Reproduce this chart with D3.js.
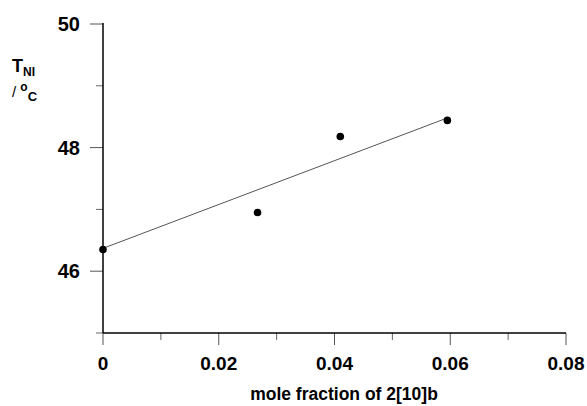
<!DOCTYPE html>
<html>
<head>
<meta charset="utf-8">
<script src="https://cdn.jsdelivr.net/npm/d3@7"></script>
<style>
  body { margin: 0; background: #fff; }
  svg text { font-family: "Liberation Sans", Arial, sans-serif; font-weight: bold; fill: #000; }
</style>
</head>
<body>
<div id="chart"></div>
<script>
// data
var moleFraction = [0, 0.0267, 0.041, 0.0595];
var tNI = [46.35, 46.95, 48.18, 48.44];
// fitted line end points
var fitX = [0, 0.0595];
var fitY = [46.37, 48.48];
var xTicks = [0, 0.02, 0.04, 0.06, 0.08];
var xMinor = [0.01, 0.03, 0.05, 0.07];
var yTicks = [46, 48, 50];
var yMinor = [45, 47, 49];

var width = 587, height = 406;
var margin = {top: 24, right: 21, bottom: 73, left: 103};

var svg = d3.select("#chart").append("svg")
    .attr("width", width)
    .attr("height", height);

var x = d3.scaleLinear().domain([0, 0.08]).range([margin.left, width - margin.right]);
var y = d3.scaleLinear().domain([45, 50]).range([height - margin.bottom, margin.top]);

// x axis
var xAxis = svg.append("g")
    .attr("transform", "translate(0," + y(45) + ")");
xAxis.selectAll(".minor").data(xMinor).enter().append("line")
    .attr("x1", function(d) { return x(d); }).attr("x2", function(d) { return x(d); })
    .attr("y1", 0).attr("y2", 7)
    .style("stroke", "#666").style("stroke-width", 1);
xAxis.selectAll(".major").data(xTicks).enter().append("line")
    .attr("x1", function(d) { return x(d); }).attr("x2", function(d) { return x(d); })
    .attr("y1", 0).attr("y2", 12)
    .style("stroke", "#555").style("stroke-width", 1);
xAxis.selectAll("text").data(xTicks).enter().append("text")
    .attr("x", function(d) { return x(d); })
    .attr("y", 37)
    .attr("text-anchor", "middle")
    .style("font-size", "19px")
    .text(function(d) { return d === 0 ? "0" : d3.format(".2f")(d); });
xAxis.append("line")
    .attr("x1", x(0)).attr("x2", x(0.08))
    .style("stroke", "#000").style("stroke-width", 1.5);

// y axis
var yAxis = svg.append("g")
    .attr("transform", "translate(" + x(0) + ",0)");
yAxis.selectAll(".minor").data(yMinor).enter().append("line")
    .attr("y1", function(d) { return y(d); }).attr("y2", function(d) { return y(d); })
    .attr("x1", 0).attr("x2", -7)
    .style("stroke", "#666").style("stroke-width", 1);
yAxis.selectAll(".major").data(yTicks).enter().append("line")
    .attr("y1", function(d) { return y(d); }).attr("y2", function(d) { return y(d); })
    .attr("x1", 0).attr("x2", -13)
    .style("stroke", "#555").style("stroke-width", 1);
yAxis.selectAll("text").data(yTicks).enter().append("text")
    .attr("x", -23)
    .attr("y", function(d) { return y(d) + 7; })
    .attr("text-anchor", "end")
    .style("font-size", "20px")
    .text(function(d) { return d; });
yAxis.append("line")
    .attr("y1", y(45)).attr("y2", y(50) - 1)
    .style("stroke", "#000").style("stroke-width", 1.5);

// fit line
var line = d3.line()
    .x(function(d) { return x(d[0]); })
    .y(function(d) { return y(d[1]); });
svg.append("path")
    .datum(d3.zip(fitX, fitY))
    .attr("d", line)
    .style("fill", "none")
    .style("stroke", "#555")
    .style("stroke-width", 1);

// points
svg.selectAll(".dot").data(d3.zip(moleFraction, tNI)).enter().append("circle")
    .attr("cx", function(d) { return x(d[0]); })
    .attr("cy", function(d) { return y(d[1]); })
    .attr("r", 3.8)
    .style("fill", "#000");

// axis titles
svg.append("text")
    .attr("x", 344)
    .attr("y", 400)
    .attr("text-anchor", "middle")
    .style("font-size", "17.5px")
    .text("mole fraction of 2[10]b");

var t1 = svg.append("text").attr("x", 12).attr("y", 72).style("font-size", "18px");
t1.append("tspan").text("T");
t1.append("tspan").attr("dy", 4).style("font-size", "12px").text("NI");

var t2 = svg.append("text").attr("x", 12).attr("y", 97).style("font-size", "15px");
t2.append("tspan").style("font-weight", "normal").text("/ ");
t2.append("tspan").attr("dy", -6).style("font-size", "12px").text("o");
t2.append("tspan").attr("dy", 10).style("font-size", "13px").text("C");
</script>
</body>
</html>
